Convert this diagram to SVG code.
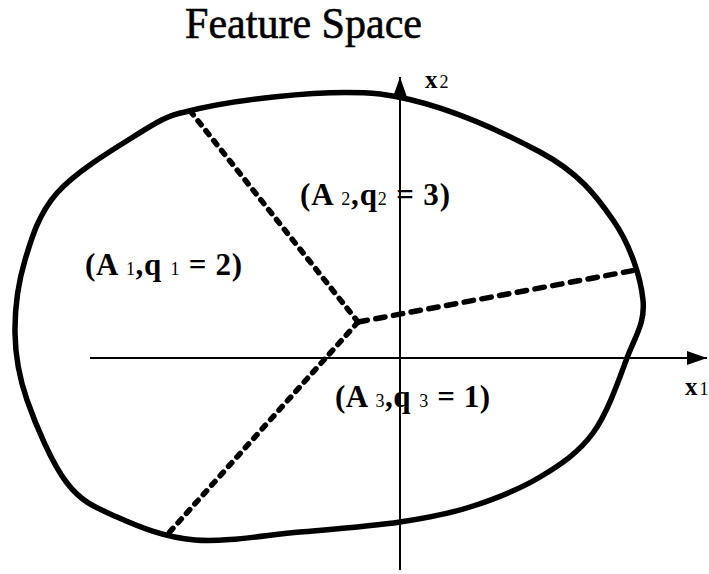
<svg xmlns="http://www.w3.org/2000/svg" width="709" height="574" viewBox="0 0 709 574">
<style>
.outline{fill:none;stroke:#000;stroke-width:5.5;stroke-linejoin:round}
.axis{fill:none;stroke:#000;stroke-width:2}
.dash{fill:none;stroke:#000;stroke-width:5.5;stroke-linecap:round;stroke-dasharray:5 7.6}
.dash2{fill:none;stroke:#000;stroke-width:5.5;stroke-linecap:round;stroke-dasharray:9.5 8.5}
.lbl{font-family:"Liberation Serif","Times New Roman",serif;font-size:31px;font-weight:bold;fill:#000}
.sub{font-size:18px;font-weight:normal}
.title{font-family:"Liberation Serif","Times New Roman",serif;font-size:44px;fill:#000;stroke:#000;stroke-width:0.6}
</style>
<defs>
<marker id="arr" viewBox="0 0 20 14" refX="20" refY="7" markerWidth="20" markerHeight="14" markerUnits="userSpaceOnUse" orient="auto">
<path d="M0,0 L20,7 L0,14 Z" fill="#000"/>
</marker>
</defs>
<text class="title" x="185" y="38" textLength="237" lengthAdjust="spacingAndGlyphs">Feature Space</text>
<g id="axes">
<line class="axis" x1="90" y1="358" x2="707" y2="358" marker-end="url(#arr)"/>
<line class="axis" x1="400" y1="570" x2="400" y2="77" marker-end="url(#arr)"/>
</g>
<g id="outline">
<path class="outline" d="M185,112 C226,101 320.8,88.3 380,94 C439.2,101.7 501.2,131.2 540,152 C578.8,172.8 595.8,195.3 613,220 C630.2,244.7 640.7,277 643,300 C645.3,323 635.3,335.8 627,358 C618.7,380.2 607.5,413.2 593,433 C578.5,452.8 560.5,464.7 540,477 C519.5,489.3 493.3,499.5 470,507 C446.7,514.5 428.3,517.8 400,522 C371.7,526.2 334.2,529 300,532 C265.8,535 225.5,542.5 195,540 C164.5,537.5 138.3,526.5 117,517 C95.7,507.5 82,502.5 67,483 C52,463.5 35.7,425 27,400 C18.3,375 15.3,356.3 15,333 C14.7,309.7 18,283.3 25,260 C32,236.7 39,213.5 57,193 C75,172.5 111.7,150.2 133,137 C154.3,123.8 167.7,114.9 185,112 Z"/>
</g>
<g id="partitions">
<line class="dash" x1="358" y1="322" x2="191" y2="112"/>
<line class="dash" x1="358" y1="322" x2="167" y2="535"/>
<line class="dash2" x1="358" y1="322" x2="636" y2="270"/>
</g>
<g id="labels">
<text class="lbl" x="85" y="275" textLength="157" lengthAdjust="spacing">(A <tspan class="sub">1</tspan>,q <tspan class="sub">1</tspan> = 2)</text>
<text class="lbl" x="300" y="205" textLength="150" lengthAdjust="spacing">(A <tspan class="sub">2</tspan>,q<tspan class="sub">2</tspan> = 3)</text>
<text class="lbl" x="335" y="407" textLength="155" lengthAdjust="spacing">(A <tspan class="sub">3</tspan>,q <tspan class="sub">3</tspan> = 1)</text>
<text class="lbl" x="425" y="88" style="font-size:25px">x<tspan class="sub" dx="2">2</tspan></text>
<text class="lbl" x="685" y="395" style="font-size:25px">x<tspan class="sub" dx="2">1</tspan></text>
</g>
</svg>
